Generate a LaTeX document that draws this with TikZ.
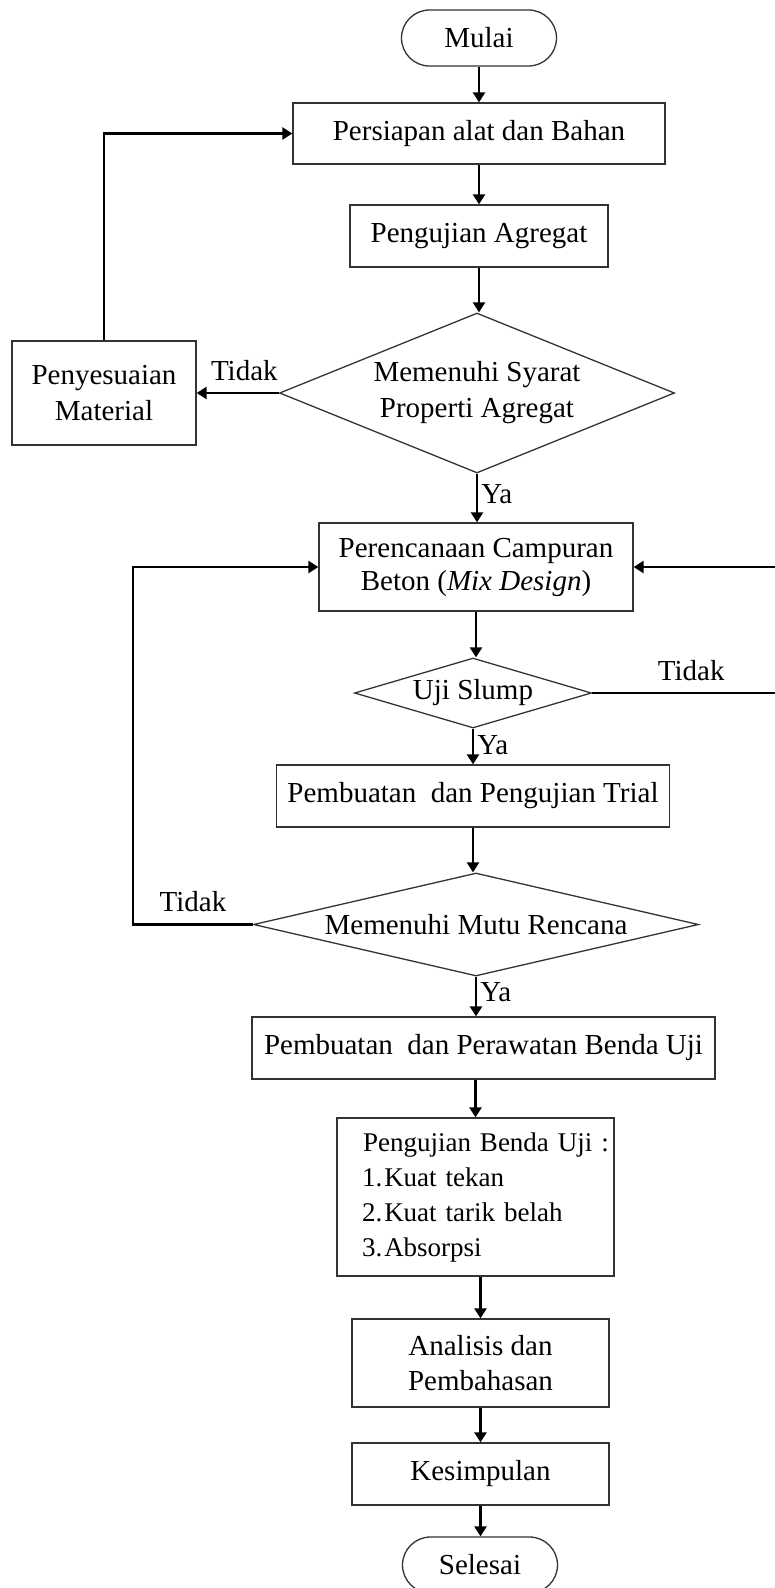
\documentclass[tikz,border=0pt]{standalone}
\usepackage{fontspec}
\setmainfont{Liberation Serif}
\usetikzlibrary{shapes.geometric,arrows.meta,positioning}

\begin{document}
\begin{tikzpicture}[x=1pt, y=-1pt,
    box/.style={draw=black!80, line width=1.3pt, rectangle, align=center, inner sep=0pt, font=\fontsize{29}{36}\selectfont},
    term/.style={box, rounded corners=28pt, minimum width=155pt, minimum height=56pt},
    decision/.style={box, diamond},
    arr/.style={line width=2.7pt, -{Triangle[length=10pt, width=12pt]}},
    lbl/.style={inner sep=3pt, font=\fontsize{29}{36}\selectfont}]
    \useasboundingbox (0,0) rectangle (775,1588);

    % main column
    \node[term] (mulai) at (479,38) {Mulai};
    \node[box, minimum width=372pt, minimum height=61pt] (persiapan) at (479,133.5) {Persiapan alat dan Bahan};
    \node[box, minimum width=258pt, minimum height=62pt] (agregat) at (479,236) {Pengujian Agregat};
    \node[decision, aspect=2.47, minimum width=395pt, minimum height=160pt] (syarat) at (477,393) {Memenuhi Syarat\\Properti Agregat};
    \node[box, minimum width=184pt, minimum height=104pt] (penyesuaian) at (104,393) {Penyesuaian\\Material};
    \node[box, minimum width=314pt, minimum height=88pt, font=\fontsize{29}{33}\selectfont] (campuran) at (476,567) {Perencanaan Campuran\\Beton (\textit{Mix Design})};
    \node[decision, aspect=3.39, minimum width=237pt, minimum height=70pt] (slump) at (473,693) {Uji Slump};
    \node[box, minimum width=393pt, minimum height=62pt] (trial) at (473,796) {Pembuatan~ dan Pengujian Trial};
    \node[decision, aspect=4.32, minimum width=445pt, minimum height=103pt] (mutu) at (476,924.5) {Memenuhi Mutu Rencana};
    \node[box, minimum width=463pt, minimum height=62pt] (benda) at (483.5,1048) {Pembuatan~ dan Perawatan Benda Uji};
    \node[box, minimum height=158pt, text width=263pt, inner xsep=7pt, align=left, font=\fontsize{27}{35}\selectfont] (pengujian) at (475.5,1197)
        {\hspace*{19pt}\mbox{Pengujian Benda Uji :}\\
         \hspace*{18pt}1.\hspace{2pt}Kuat tekan\\
         \hspace*{18pt}2.\hspace{2pt}Kuat tarik belah\\
         \hspace*{18pt}3.\hspace{2pt}Absorpsi};
    \node[box, minimum width=257pt, minimum height=88pt, font=\fontsize{29}{35}\selectfont] (analisis) at (480.5,1363) {Analisis dan\\Pembahasan};
    \node[box, minimum width=257pt, minimum height=62pt] (kesimpulan) at (480.5,1474) {Kesimpulan};
    \node[term] (selesai) at (480,1565) {Selesai};

    % turning points of the loops
    \coordinate (rtrn) at (779,693);
    \coordinate (ltrn) at (133,924.5);

    % arrows
    \draw[arr] (mulai) -- (mulai |- persiapan.north);
    \draw[arr] (persiapan) -- (persiapan |- agregat.north);
    \draw[arr] (agregat) -- (agregat |- syarat.north);
    \draw[arr] (syarat) -- node[lbl, right, pos=0.42] {Ya} (syarat |- campuran.north);
    \draw[arr] (campuran) -- (campuran |- slump.north);
    \draw[arr] (slump) -- node[lbl, right, pos=0.45] {Ya} (slump |- trial.north);
    \draw[arr] (trial) -- (trial |- mutu.north);
    \draw[arr] (mutu) -- node[lbl, right, pos=0.4] {Ya} (mutu |- benda.north);
    \draw[arr] (benda.south -| pengujian) -- (pengujian);
    \draw[arr] (analisis |- pengujian.south) -- (analisis);
    \draw[arr] (analisis) -- (analisis |- kesimpulan.north);
    \draw[arr] (kesimpulan) -- (kesimpulan |- selesai.north);

    % loops back
    \draw[arr] (syarat.west) -- node[lbl, above=8pt, pos=0.42] {Tidak} (penyesuaian.east);
    \draw[arr] (penyesuaian.north) |- (persiapan.west);
    \draw[arr] (slump.east) -- node[lbl, above=8pt, pos=0.53] {Tidak} (rtrn) |- (campuran.east);
    \draw[arr] (mutu.west) -- node[lbl, above=8pt] {Tidak} (ltrn) |- (campuran.west);
\end{tikzpicture}
\end{document}
